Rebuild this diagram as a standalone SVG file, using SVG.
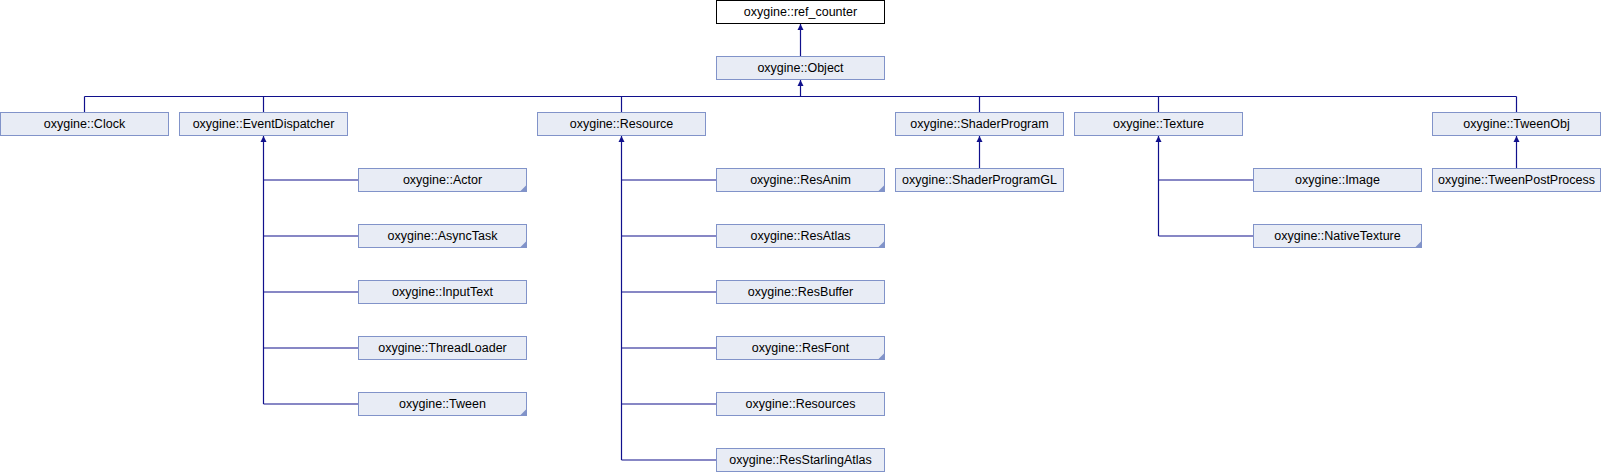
<svg xmlns="http://www.w3.org/2000/svg" width="1601" height="472" viewBox="0 0 1601 472">
<style>
.n rect{fill:#E8ECF5;stroke:#8193C9;stroke-width:1}
.n.cur rect{fill:#FFFFFF;stroke:#000000}
.n text{font-family:"Liberation Sans",Arial,sans-serif;font-size:12.5px;fill:#000;text-anchor:middle}
.n path{fill:#8193C9;stroke:none}
.e line{stroke:#10108C;stroke-width:1.2;fill:none}
.e polygon{fill:#10108C;stroke:none}
</style>
<rect width="1601" height="472" fill="#FFFFFF"/>
<g class="e" id="connectors">
<line x1="800.5" y1="23.5" x2="800.5" y2="56.5"/>
<polygon points="800.5,24 797.5,30 803.5,30"/>
<line x1="800.5" y1="79.5" x2="800.5" y2="96.5"/>
<polygon points="800.5,80 797.5,86 803.5,86"/>
<line x1="84.5" y1="96.5" x2="1516.5" y2="96.5"/>
<line x1="84.5" y1="96.5" x2="84.5" y2="112.5"/>
<line x1="263.5" y1="96.5" x2="263.5" y2="112.5"/>
<line x1="621.5" y1="96.5" x2="621.5" y2="112.5"/>
<line x1="979.5" y1="96.5" x2="979.5" y2="112.5"/>
<line x1="1158.5" y1="96.5" x2="1158.5" y2="112.5"/>
<line x1="1516.5" y1="96.5" x2="1516.5" y2="112.5"/>
<line x1="263.5" y1="135.5" x2="263.5" y2="404"/>
<polygon points="263.5,136 260.5,142 266.5,142"/>
<line x1="263.5" y1="180" x2="358.5" y2="180"/>
<line x1="263.5" y1="236" x2="358.5" y2="236"/>
<line x1="263.5" y1="292" x2="358.5" y2="292"/>
<line x1="263.5" y1="348" x2="358.5" y2="348"/>
<line x1="263.5" y1="404" x2="358.5" y2="404"/>
<line x1="621.5" y1="135.5" x2="621.5" y2="460"/>
<polygon points="621.5,136 618.5,142 624.5,142"/>
<line x1="621.5" y1="180" x2="716.5" y2="180"/>
<line x1="621.5" y1="236" x2="716.5" y2="236"/>
<line x1="621.5" y1="292" x2="716.5" y2="292"/>
<line x1="621.5" y1="348" x2="716.5" y2="348"/>
<line x1="621.5" y1="404" x2="716.5" y2="404"/>
<line x1="621.5" y1="460" x2="716.5" y2="460"/>
<line x1="979.5" y1="135.5" x2="979.5" y2="168.5"/>
<polygon points="979.5,136 976.5,142 982.5,142"/>
<line x1="1158.5" y1="135.5" x2="1158.5" y2="236"/>
<polygon points="1158.5,136 1155.5,142 1161.5,142"/>
<line x1="1158.5" y1="180" x2="1253.5" y2="180"/>
<line x1="1158.5" y1="236" x2="1253.5" y2="236"/>
<line x1="1516.5" y1="135.5" x2="1516.5" y2="168.5"/>
<polygon points="1516.5,136 1513.5,142 1519.5,142"/>
</g>
<g class="n cur" id="ref_counter"><rect x="716.5" y="0.5" width="168" height="23"/><text x="800.5" y="16">oxygine::ref_counter</text></g>
<g class="n" id="Object"><rect x="716.5" y="56.5" width="168" height="23"/><text x="800.5" y="72">oxygine::Object</text></g>
<g class="n" id="Clock"><rect x="0.5" y="112.5" width="168" height="23"/><text x="84.5" y="128">oxygine::Clock</text></g>
<g class="n" id="EventDispatcher"><rect x="179.5" y="112.5" width="168" height="23"/><text x="263.5" y="128">oxygine::EventDispatcher</text></g>
<g class="n" id="Resource"><rect x="537.5" y="112.5" width="168" height="23"/><text x="621.5" y="128">oxygine::Resource</text></g>
<g class="n" id="ShaderProgram"><rect x="895.5" y="112.5" width="168" height="23"/><text x="979.5" y="128">oxygine::ShaderProgram</text></g>
<g class="n" id="Texture"><rect x="1074.5" y="112.5" width="168" height="23"/><text x="1158.5" y="128">oxygine::Texture</text></g>
<g class="n" id="TweenObj"><rect x="1432.5" y="112.5" width="168" height="23"/><text x="1516.5" y="128">oxygine::TweenObj</text></g>
<g class="n" id="Actor"><rect x="358.5" y="168.5" width="168" height="23"/><text x="442.5" y="184">oxygine::Actor</text><path d="M526,185.5 L526,191 L520.5,191 Z"/></g>
<g class="n" id="AsyncTask"><rect x="358.5" y="224.5" width="168" height="23"/><text x="442.5" y="240">oxygine::AsyncTask</text><path d="M526,241.5 L526,247 L520.5,247 Z"/></g>
<g class="n" id="InputText"><rect x="358.5" y="280.5" width="168" height="23"/><text x="442.5" y="296">oxygine::InputText</text></g>
<g class="n" id="ThreadLoader"><rect x="358.5" y="336.5" width="168" height="23"/><text x="442.5" y="352">oxygine::ThreadLoader</text></g>
<g class="n" id="Tween"><rect x="358.5" y="392.5" width="168" height="23"/><text x="442.5" y="408">oxygine::Tween</text><path d="M526,409.5 L526,415 L520.5,415 Z"/></g>
<g class="n" id="ResAnim"><rect x="716.5" y="168.5" width="168" height="23"/><text x="800.5" y="184">oxygine::ResAnim</text><path d="M884,185.5 L884,191 L878.5,191 Z"/></g>
<g class="n" id="ResAtlas"><rect x="716.5" y="224.5" width="168" height="23"/><text x="800.5" y="240">oxygine::ResAtlas</text><path d="M884,241.5 L884,247 L878.5,247 Z"/></g>
<g class="n" id="ResBuffer"><rect x="716.5" y="280.5" width="168" height="23"/><text x="800.5" y="296">oxygine::ResBuffer</text></g>
<g class="n" id="ResFont"><rect x="716.5" y="336.5" width="168" height="23"/><text x="800.5" y="352">oxygine::ResFont</text><path d="M884,353.5 L884,359 L878.5,359 Z"/></g>
<g class="n" id="Resources"><rect x="716.5" y="392.5" width="168" height="23"/><text x="800.5" y="408">oxygine::Resources</text></g>
<g class="n" id="ResStarlingAtlas"><rect x="716.5" y="448.5" width="168" height="23"/><text x="800.5" y="464">oxygine::ResStarlingAtlas</text></g>
<g class="n" id="ShaderProgramGL"><rect x="895.5" y="168.5" width="168" height="23"/><text x="979.5" y="184">oxygine::ShaderProgramGL</text></g>
<g class="n" id="Image"><rect x="1253.5" y="168.5" width="168" height="23"/><text x="1337.5" y="184">oxygine::Image</text></g>
<g class="n" id="NativeTexture"><rect x="1253.5" y="224.5" width="168" height="23"/><text x="1337.5" y="240">oxygine::NativeTexture</text><path d="M1421,241.5 L1421,247 L1415.5,247 Z"/></g>
<g class="n" id="TweenPostProcess"><rect x="1432.5" y="168.5" width="168" height="23"/><text x="1516.5" y="184">oxygine::TweenPostProcess</text></g>
</svg>
